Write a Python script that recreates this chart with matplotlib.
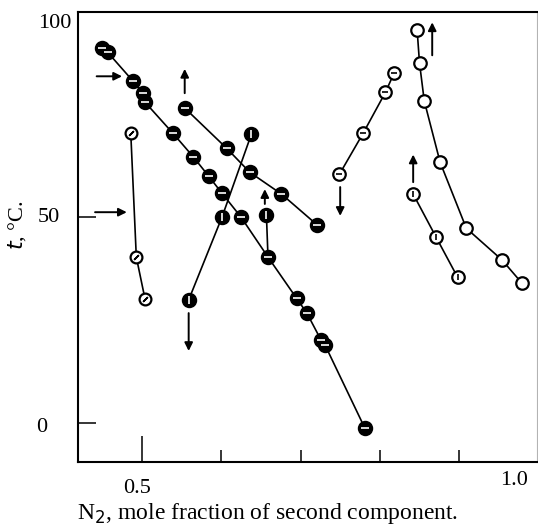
import matplotlib.pyplot as plt

plt.rcParams['font.family'] = ['Liberation Serif', 'DejaVu Serif']

# mole fraction N2 / temperature t
# A: long falling curve (filled circles, white dash)
a_x = [0.450, 0.457, 0.489, 0.501, 0.504, 0.539, 0.565, 0.584, 0.601, 0.625, 0.659, 0.695, 0.708, 0.726, 0.731, 0.781]
a_t = [91.0, 90.0, 83.0, 80.1, 77.9, 70.4, 64.6, 60.0, 55.8, 50.0, 40.3, 30.3, 26.7, 20.1, 18.9, -1.2]
# B: shorter falling curve (filled)
b_x = [0.554, 0.607, 0.636, 0.676, 0.721]
b_t = [76.5, 66.7, 60.9, 55.6, 48.1]
# C: left steep curve (slashed circles)
c_x = [0.486, 0.493, 0.504]
c_t = [70.4, 40.3, 30.1]
# D: rising line (filled, white bar)
d_x = [0.559, 0.601, 0.638]
d_t = [29.9, 50.0, 70.1]
# E: short branch that joins A
e_x = [0.657, 0.659]
e_t = [50.5, 40.3]
# F: rising curve (open, horizontal bar)
f_x = [0.749, 0.779, 0.807, 0.818]
f_t = [60.4, 70.4, 80.3, 85.0]
# G: right falling curve (open circles)
g_x = [0.847, 0.850, 0.856, 0.876, 0.909, 0.954, 0.979]
g_t = [95.4, 87.4, 78.2, 63.3, 47.3, 39.6, 34.0]
# H: right short curve (open, vertical bar)
h_x = [0.842, 0.871, 0.898]
h_t = [55.6, 45.1, 35.4]

# arrows: (tail x, tail t, head x, head t)
arrows = [
    (0.443, 84.2, 0.475, 84.2),
    (0.441, 51.2, 0.481, 51.2),
    (0.554, 80.1, 0.554, 86.0),
    (0.559, 26.7, 0.559, 17.5),
    (0.655, 53.2, 0.655, 56.8),
    (0.750, 57.3, 0.750, 50.3),
    (0.866, 89.3, 0.866, 97.3),
    (0.842, 58.5, 0.842, 65.2),
]

fig = plt.figure(figsize=(5.38, 5.24), dpi=100)
ax = fig.add_axes([0.145, 0.118, 0.853, 0.859])


def series(x, t, face, mark=None, ms=9.5):
    ax.plot(x, t, '-', color='k', lw=1.2, zorder=2)
    ax.plot(x, t, 'o', ms=ms, mfc=face, mec='k', mew=1.6, zorder=3)
    if mark is not None:
        c = 'w' if face == 'k' else 'k'
        ax.plot(x, t, ls='none', marker=mark, ms=ms * 0.55, color=c, mew=1.2, zorder=4)


series(a_x, a_t, 'k', '_')
series(b_x, b_t, 'k', '_')
series(c_x, c_t, 'w', (2, 2, -45), ms=8.5)
series(d_x, d_t, 'k', '|')
series(e_x[:1], e_t[:1], 'k', '|')
ax.plot(e_x, e_t, '-', color='k', lw=1.2, zorder=2)
series(f_x, f_t, 'w', '_', ms=9)
series(g_x, g_t, 'w', ms=9)
series(h_x, h_t, 'w', '|', ms=9)

for x0, y0, x1, y1 in arrows:
    ax.annotate('', xy=(x1, y1), xytext=(x0, y0),
                arrowprops=dict(arrowstyle='-|>', color='k', lw=1.4, mutation_scale=12,
                                shrinkA=0, shrinkB=0))

ax.set_xlim(0.4195, 0.998)
ax.set_ylim(-9.5, 99.8)

# inward ticks, labels drawn by hand
ax.set_xticks([0.5])
ax.set_xticks([0.6, 0.7, 0.8, 0.9], minor=True)
ax.set_yticks([0, 50])
ax.tick_params(axis='x', which='major', direction='in', length=19, width=1.1, labelbottom=False)
ax.tick_params(axis='x', which='minor', direction='in', length=8.5, width=1.1)
ax.tick_params(axis='y', direction='in', length=13, width=1.1, labelleft=False)

for s in ['left', 'bottom', 'top']:
    ax.spines[s].set_linewidth(1.5)
ax.spines['right'].set_linewidth(0.8)
ax.spines['right'].set_color('0.7')

ytr = ax.get_yaxis_transform()
ax.text(-0.088, 97.0, '100', transform=ytr, ha='left', va='center', fontsize=16)
ax.text(-0.088, 50.0, '50', transform=ytr, ha='left', va='center', fontsize=16)
ax.text(-0.092, -1.0, '0', transform=ytr, ha='left', va='center', fontsize=16)

xtr = ax.get_xaxis_transform()
ax.text(0.494, -0.058, '0.5', transform=xtr, ha='center', va='center', fontsize=16)
ax.text(0.969, -0.04, '1.0', transform=xtr, ha='center', va='center', fontsize=16)

fig.text(268 / 538, 1 - 513 / 524, 'N$_2$, mole fraction of second component.',
         ha='center', va='center', fontsize=17)
fig.text(17 / 538, 1 - 225 / 524, '$t$, °C.', rotation=90, ha='center', va='center', fontsize=16)

fig.savefig('out.png', dpi=100)
